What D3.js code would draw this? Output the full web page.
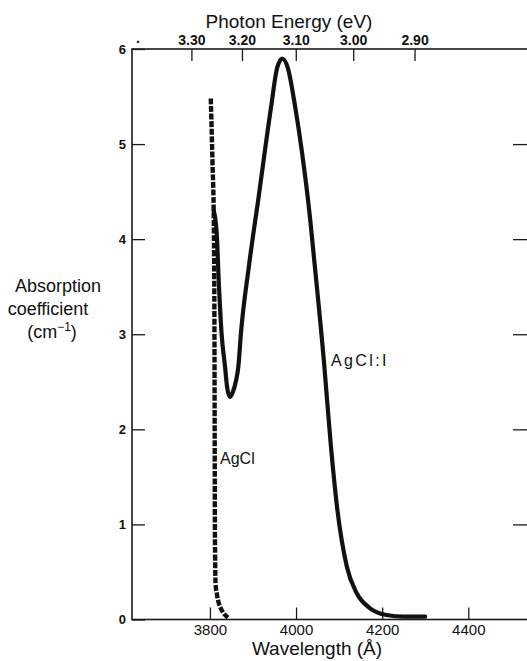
<!DOCTYPE html>
<html>
<head>
<meta charset="utf-8">
<script src="https://cdn.jsdelivr.net/npm/d3@7"></script>
<style>
  html, body { margin: 0; padding: 0; background: #fff; }
  svg { display: block; }
  text { font-family: "Liberation Sans", Arial, sans-serif; fill: #111; }
</style>
</head>
<body>
<svg id="chart" width="527" height="661"></svg>
<script>
// ---- Data ----
const wavelengthTicks = [3800, 4000, 4200, 4400];
const absorptionTicks = [0, 1, 2, 3, 4, 5, 6];
const energyTicks = [3.30, 3.20, 3.10, 3.00, 2.90];
const energyTickLabels = ["3.30", "3.20", "3.10", "3.00", "2.90"];

// AgCl (dashed)
const agclWavelength = [3802, 3806, 3809, 3810.5, 3811, 3811.5, 3812, 3813, 3816, 3819, 3825, 3831, 3842];
const agclAbsorption = [5.48, 4.8, 4.2, 3.0, 2.0, 1.0, 0.69, 0.38, 0.27, 0.2, 0.12, 0.07, 0.02];

// AgCl:I (solid)
const agcliWavelength = [3808.8, 3815.6, 3821, 3827, 3835, 3840, 3846.5, 3853, 3860, 3866, 3872, 3890, 3912, 3942, 3956, 3968, 3981, 3998, 4013, 4033, 4040, 4065, 4081, 4095, 4118, 4141, 4172, 4210, 4250, 4300];
const agcliAbsorption = [4.3, 4.07, 3.5, 3.01, 2.66, 2.44, 2.34, 2.39, 2.5, 2.66, 3.01, 3.7, 4.41, 5.39, 5.8, 5.9, 5.8, 5.39, 4.94, 4.2, 3.88, 2.70, 1.82, 1.19, 0.555, 0.276, 0.118, 0.047, 0.03, 0.03];

const hcOverE = 12398; // Å·eV

// ---- Layout ----
const svg = d3.select("#chart");
const mLeft = 132, mRight = 529, mTop = 49, mBottom = 619.5;

const x = d3.scaleLinear().domain([3619, 4541]).range([mLeft, mRight]);
const y = d3.scaleLinear().domain([0, 6]).range([mBottom, mTop]);

// frame
svg.append("rect")
  .attr("x", mLeft).attr("y", mTop)
  .attr("width", mRight - mLeft).attr("height", mBottom - mTop)
  .attr("fill", "none").attr("stroke", "#1a1a1a").attr("stroke-width", 1.6);

// bottom axis (inward ticks)
const gx = svg.append("g").attr("transform", `translate(0,${mBottom})`)
  .call(d3.axisBottom(x).tickValues(wavelengthTicks).tickSize(-12).tickPadding(5).tickFormat(d3.format("d")));
gx.select(".domain").remove();
gx.selectAll("line").attr("stroke", "#1a1a1a").attr("stroke-width", 1.3);
gx.selectAll("text").style("font-size", "15px").style("font-family", "Liberation Sans, Arial, sans-serif").attr("fill", "#111");

// top axis: photon energy
const gt = svg.append("g").attr("transform", `translate(0,${mTop})`)
  .call(d3.axisTop(x)
    .tickValues(energyTicks.map(e => hcOverE / e))
    .tickSize(-12).tickPadding(4)
    .tickFormat((d, i) => energyTickLabels[i]));
gt.select(".domain").remove();
gt.selectAll("line").attr("stroke", "#1a1a1a").attr("stroke-width", 1.3);
gt.selectAll("text").style("font-size", "14px").style("font-weight", "bold").style("font-family", "Liberation Sans, Arial, sans-serif").attr("fill", "#111");
// stray dot left of 3.30 label
svg.append("text").attr("x", x(3633)).attr("y", 43).attr("text-anchor", "middle")
  .style("font-size", "14px").style("font-weight", "bold").text(".");

// left axis
const gy = svg.append("g").attr("transform", `translate(${mLeft},0)`)
  .call(d3.axisLeft(y).tickValues(absorptionTicks).tickSize(-13).tickPadding(6).tickFormat(d3.format("d")));
gy.select(".domain").remove();
gy.selectAll("line").attr("stroke", "#1a1a1a").attr("stroke-width", 1.3);
gy.selectAll("text").style("font-size", "13px").style("font-weight", "bold").style("font-family", "Liberation Sans, Arial, sans-serif").attr("fill", "#111");

// right axis ticks (no labels)
const gr = svg.append("g").attr("transform", `translate(${mRight},0)`)
  .call(d3.axisRight(y).tickValues(absorptionTicks.slice(1, 6)).tickSize(-16).tickFormat(""));
gr.select(".domain").remove();
gr.selectAll("line").attr("stroke", "#1a1a1a").attr("stroke-width", 1.3);

// titles
svg.append("text").attr("x", 289).attr("y", 28).attr("text-anchor", "middle")
  .style("font-size", "19px").text("Photon Energy (eV)");
svg.append("text").attr("x", 317).attr("y", 655).attr("text-anchor", "middle")
  .style("font-size", "19px").text("Wavelength (Å)");

const yl = svg.append("g");
yl.append("text").attr("x", 58).attr("y", 292).attr("text-anchor", "middle").style("font-size", "18px").text("Absorption");
yl.append("text").attr("x", 48).attr("y", 315).attr("text-anchor", "middle").style("font-size", "18px").text("coefficient");
const t3 = yl.append("text").attr("x", 52).attr("y", 338).attr("text-anchor", "middle").style("font-size", "18px");
t3.append("tspan").text("(cm");
t3.append("tspan").attr("dy", -7).style("font-size", "12px").text("−1");
t3.append("tspan").attr("dy", 7).text(")");

// curves
const line = d3.line().x(d => x(d[0])).y(d => y(d[1])).curve(d3.curveMonotoneX);

svg.append("path")
  .datum(agclWavelength.map((w, i) => [w, agclAbsorption[i]]))
  .attr("d", line)
  .attr("fill", "none").attr("stroke", "#111").attr("stroke-width", 4.4)
  .attr("stroke-dasharray", "6,1.6");

svg.append("path")
  .datum(agcliWavelength.map((w, i) => [w, agcliAbsorption[i]]))
  .attr("d", line)
  .attr("fill", "none").attr("stroke", "#111").attr("stroke-width", 4.2)
  .attr("stroke-linecap", "round").attr("stroke-linejoin", "round");

// curve labels
svg.append("text").attr("x", 220).attr("y", 464).style("font-size", "16px").text("AgCl");
svg.append("text").attr("x", 331).attr("y", 366).style("font-size", "16px").attr("letter-spacing", "2.4").text("AgCl:I");
</script>
</body>
</html>
